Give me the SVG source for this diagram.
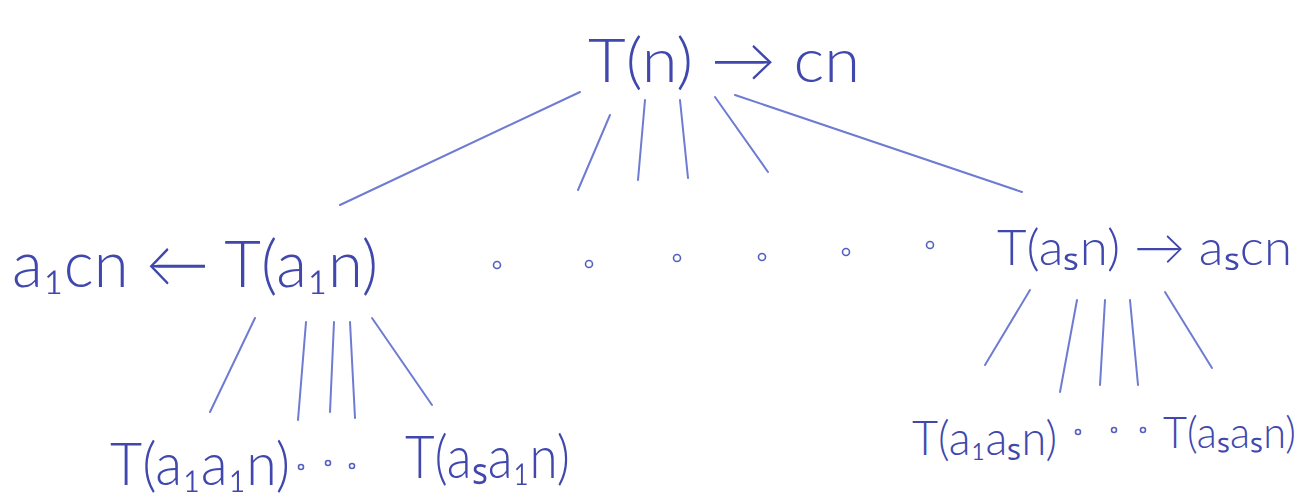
<svg xmlns="http://www.w3.org/2000/svg" width="1305" height="502" viewBox="0 0 1305 502">
<style>
text{font-family:"Lato","Liberation Sans","DejaVu Sans",sans-serif;font-weight:300;fill:#4048ad}
.c line{stroke:#6e7bd2;stroke-width:2;stroke-linecap:round}
.dot{fill:none;stroke:#5560c0;stroke-width:1.6}
</style>
<rect width="1305" height="502" fill="#fff"/>
<g id="connectors" class="c">
<line x1="580" y1="92" x2="340" y2="205"/>
<line x1="610" y1="115" x2="578" y2="190"/>
<line x1="645" y1="100" x2="638" y2="180"/>
<line x1="680" y1="100" x2="688" y2="178"/>
<line x1="715" y1="97" x2="768" y2="172"/>
<line x1="735" y1="95" x2="1022" y2="192"/>
<line x1="255" y1="318" x2="210" y2="412"/>
<line x1="306" y1="322" x2="298" y2="420"/>
<line x1="334" y1="322" x2="330" y2="412"/>
<line x1="350" y1="322" x2="355" y2="418"/>
<line x1="372" y1="318" x2="432" y2="405"/>
<line x1="1030" y1="290" x2="985" y2="365"/>
<line x1="1077" y1="300" x2="1060" y2="392"/>
<line x1="1105" y1="300" x2="1100" y2="385"/>
<line x1="1130" y1="300" x2="1138" y2="385"/>
<line x1="1165" y1="292" x2="1212" y2="368"/>
</g>
<g id="root">
<text x="588" y="82" font-size="62" textLength="272" lengthAdjust="spacingAndGlyphs">T(n) → cn</text>
</g>
<g id="left">
<text x="12" y="287" font-size="66" textLength="366" lengthAdjust="spacingAndGlyphs">a₁cn ← T(a₁n)</text>
</g>
<g id="ellipsis-mid">
<circle class="dot" cx="497" cy="265" r="3.5"/>
<circle class="dot" cx="589" cy="264" r="3.5"/>
<circle class="dot" cx="677" cy="258" r="3.5"/>
<circle class="dot" cx="762" cy="257" r="3.5"/>
<circle class="dot" cx="846" cy="252" r="3.5"/>
<circle class="dot" cx="930" cy="245" r="3.5"/>
</g>
<g id="right">
<text x="997" y="265" font-size="50" textLength="295" lengthAdjust="spacingAndGlyphs">T(aₛn) → aₛcn</text>
</g>
<g id="left-child-1">
<text x="110" y="485" font-size="60" textLength="180" lengthAdjust="spacingAndGlyphs">T(a₁a₁n)</text>
</g>
<g id="left-ellipsis">
<circle class="dot" cx="301" cy="467" r="2.5"/>
<circle class="dot" cx="328" cy="463" r="2.5"/>
<circle class="dot" cx="352" cy="466" r="2.5"/>
</g>
<g id="left-child-2">
<text x="405" y="478" font-size="60" textLength="165" lengthAdjust="spacingAndGlyphs">T(aₛa₁n)</text>
</g>
<g id="right-child-1">
<text x="912" y="455" font-size="48" textLength="145" lengthAdjust="spacingAndGlyphs">T(a₁aₛn)</text>
</g>
<g id="right-ellipsis">
<circle class="dot" cx="1078" cy="432" r="2.5"/>
<circle class="dot" cx="1114" cy="430" r="2.5"/>
<circle class="dot" cx="1143" cy="430" r="2.5"/>
</g>
<g id="right-child-2">
<text x="1163" y="448" font-size="44" textLength="133" lengthAdjust="spacingAndGlyphs">T(aₛaₛn)</text>
</g>
</svg>
